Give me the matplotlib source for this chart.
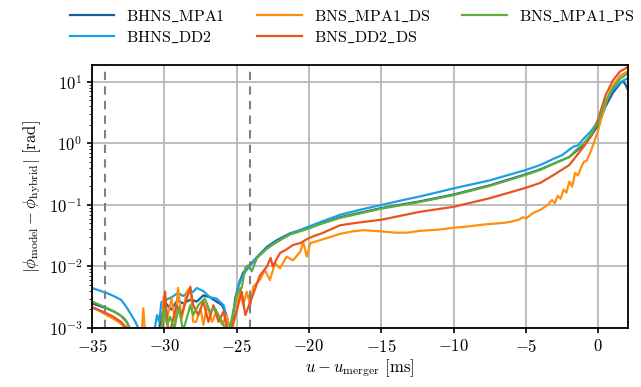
import matplotlib
matplotlib.use("Agg")
import matplotlib.pyplot as plt
import numpy as np

plt.rcParams["font.family"] = "serif"
plt.rcParams["font.serif"] = ["cmr10"]
plt.rcParams["mathtext.fontset"] = "cm"
plt.rcParams["axes.formatter.use_mathtext"] = True

# time [ms] and log10 phase difference for each run
t_bhns_mpa1 = [-35.0, -34.5, -34.0, -33.5, -33.0, -32.6, -32.3, -32.0, -30.5, -30.2, -29.9, -29.5, -29.1,
               -28.7, -28.2, -27.75, -27.3, -26.85, -26.4, -26.0, -25.7, -25.4, -25.1, -24.8, -24.55,
               -24.1, -23.6, -22.9, -22.2, -21.3, -20.1, -19.2, -17.85, -15.0, -12.3, -10.0, -7.5, -5.0,
               -4.0, -3.0, -2.0, -1.5, -1.0, -0.5, 0.0, 0.5, 1.0, 1.5, 1.7, 1.9, 2.1]
v_bhns_mpa1 = [-2.6, -2.64, -2.68, -2.73, -2.8, -2.9, -3.05, -3.2, -3.2, -2.8, -2.6, -2.7, -2.55,
               -2.6, -2.54, -2.57, -2.47, -2.5, -2.57, -2.63, -2.8, -3.1, -2.52, -2.25, -2.1,
               -1.98, -1.85, -1.68, -1.57, -1.46, -1.38, -1.3, -1.2, -1.05, -0.94, -0.83, -0.68, -0.5,
               -0.42, -0.32, -0.22, -0.12, -0.02, 0.12, 0.3, 0.6, 0.82, 0.97, 1.02, 0.95, 0.85]

t_bhns_dd2 = [-35.0, -34.5, -34.0, -33.5, -33.0, -32.7, -32.3, -32.0, -31.7, -31.2, -30.8, -30.5, -30.35,
              -30.2, -29.95, -29.5, -29.05, -28.7, -28.4, -28.0, -27.75, -27.3, -26.85, -26.4, -25.9,
              -25.6, -25.4, -25.25, -24.9, -24.55, -24.2, -23.6, -22.9, -22.2, -21.3, -20.0, -19.0,
              -17.85, -16.5, -15.0, -13.5, -12.3, -10.0, -7.5, -5.0, -4.0, -3.0, -2.5, -2.0, -1.7,
              -1.4, -1.0, -0.5, 0.0, 0.5, 1.0, 1.5, 2.1]
v_bhns_dd2 = [-2.35, -2.39, -2.43, -2.48, -2.54, -2.63, -2.78, -2.9, -3.05, -3.2, -3.2, -2.79, -2.9,
              -2.58, -2.55, -2.5, -2.43, -2.48, -2.43, -2.41, -2.35, -2.4, -2.5, -2.52, -2.63,
              -2.9, -3.1, -2.8, -2.33, -2.14, -2.02, -1.86, -1.7, -1.59, -1.47, -1.35, -1.26,
              -1.16, -1.08, -1.0, -0.92, -0.86, -0.73, -0.6, -0.43, -0.35, -0.24, -0.19, -0.1, -0.05,
              -0.03, 0.08, 0.2, 0.36, 0.66, 0.87, 0.99, 1.07]

t_bns_mpa1_ds = [-35.0, -34.5, -34.0, -33.5, -33.0, -32.6, -32.3, -31.6, -31.45, -31.3, -30.2, -30.05,
                 -29.85, -29.5, -29.25, -29.05, -28.8, -28.45, -28.2, -28.0, -27.8, -27.5, -27.3, -27.05,
                 -26.7, -26.4, -26.0, -25.7, -25.4, -25.0, -24.75, -24.55, -24.3, -24.05, -23.85, -23.4,
                 -23.05, -22.7, -22.35, -22.0, -21.55, -21.1, -20.6, -20.4, -20.15, -19.9, -19.2, -18.5,
                 -17.85, -17.0, -16.2, -15.0, -14.0, -13.2, -12.3, -11.0, -10.0, -9.0, -8.0, -7.5, -6.5,
                 -6.0, -5.5, -5.2, -5.0, -4.5, -4.0, -3.5, -3.2, -3.0, -2.8, -2.6, -2.4, -2.2, -2.0,
                 -1.8, -1.6, -1.4, -1.2, -1.0, -0.8, -0.5, -0.2, 0.0, 0.3, 0.6, 1.0, 1.5, 2.1]
v_bns_mpa1_ds = [-2.67, -2.72, -2.79, -2.85, -2.93, -3.05, -3.2, -3.2, -2.68, -3.2, -3.15, -2.49,
                 -2.9, -2.52, -2.9, -2.35, -2.85, -2.41, -2.35, -2.9, -2.9, -2.68, -2.95, -2.63,
                 -2.9, -2.73, -2.95, -2.79, -3.15, -2.68, -2.35, -2.63, -2.41, -2.63, -2.33, -2.22,
                 -2.06, -2.22, -1.95, -2.03, -1.84, -1.9, -1.76, -1.6, -1.84, -1.62, -1.57, -1.52,
                 -1.47, -1.43, -1.41, -1.43, -1.45, -1.45, -1.42, -1.4, -1.37, -1.35, -1.32, -1.31, -1.29,
                 -1.27, -1.24, -1.2, -1.22, -1.13, -1.08, -1.0, -0.92, -0.97, -0.85, -0.9, -0.75, -0.8, -0.62,
                 -0.7, -0.48, -0.52, -0.4, -0.3, -0.28, -0.12, 0.08, 0.22, 0.48, 0.72, 0.93, 1.1, 1.18]

t_bns_dd2_ds = [-35.0, -34.5, -34.0, -33.5, -33.0, -32.6, -32.3, -31.0, -30.5, -30.15, -29.95, -29.7,
                -29.15, -28.8, -28.2, -28.0, -27.65, -27.3, -26.95, -26.6, -26.25, -25.9, -25.55, -25.0,
                -24.65, -24.4, -24.05, -23.7, -23.4, -22.9, -22.65, -22.5, -22.0, -21.6, -21.1, -20.6,
                -20.1, -19.6, -19.1, -17.85, -16.7, -15.0, -12.3, -10.0, -7.5, -5.0, -4.0, -3.0, -2.0,
                -1.5, -1.0, -0.5, 0.0, 0.5, 1.0, 1.5, 2.1]
v_bns_dd2_ds = [-2.66, -2.71, -2.76, -2.82, -2.9, -3.0, -3.2, -3.2, -3.1, -3.2, -2.41, -3.15,
                -2.63, -2.79, -2.33, -2.63, -2.79, -2.57, -2.9, -2.63, -2.9, -2.73, -3.15, -2.73,
                -2.41, -2.79, -2.57, -2.35, -2.15, -2.0, -1.86, -2.0, -1.78, -1.73, -1.65, -1.62,
                -1.55, -1.5, -1.46, -1.33, -1.29, -1.24, -1.11, -1.03, -0.89, -0.72, -0.64, -0.5, -0.35,
                -0.2, -0.05, 0.12, 0.4, 0.78, 1.02, 1.17, 1.25]

t_bns_mpa1_ps = [-35.0, -34.5, -34.0, -33.5, -33.0, -32.7, -32.4, -32.1, -31.0, -30.6, -30.3, -30.0,
                 -29.8, -29.6, -29.3, -29.0, -28.7, -28.2, -28.0, -27.65, -27.2, -26.85, -26.5, -26.15,
                 -25.9, -25.6, -25.0, -24.65, -24.4, -24.2, -23.95, -23.6, -22.9, -22.2, -21.3, -20.1,
                 -19.2, -17.85, -15.0, -12.3, -10.0, -7.5, -5.0, -4.0, -3.0, -2.0, -1.5, -1.0, -0.5,
                 0.0, 0.5, 1.0, 1.5, 2.1]
v_bns_mpa1_ps = [-2.57, -2.62, -2.67, -2.73, -2.8, -2.86, -3.0, -3.2, -3.2, -3.1, -3.2, -2.68,
                 -2.95, -2.82, -3.0, -2.66, -3.05, -2.63, -2.79, -2.63, -2.52, -2.73, -2.68, -2.84,
                 -2.95, -3.15, -2.46, -2.35, -2.02, -1.98, -2.08, -1.86, -1.71, -1.6, -1.48, -1.39,
                 -1.31, -1.21, -1.06, -0.95, -0.84, -0.69, -0.51, -0.43, -0.32, -0.22, -0.1, 0.0, 0.15,
                 0.35, 0.68, 0.9, 1.05, 1.15]

runs = [
    ("BHNS_MPA1", t_bhns_mpa1, v_bhns_mpa1, "#1b5c9e"),
    ("BHNS_DD2", t_bhns_dd2, v_bhns_dd2, "#1ba1e0"),
    ("BNS_MPA1_DS", t_bns_mpa1_ds, v_bns_mpa1_ds, "#ff8f0f"),
    ("BNS_DD2_DS", t_bns_dd2_ds, v_bns_dd2_ds, "#e9531f"),
    ("BNS_MPA1_PS", t_bns_mpa1_ps, v_bns_mpa1_ps, "#5fae3c"),
]
dashed_times = [-34.1, -24.07]


def tex_label(name):
    # cmr10 has no underscore glyph, so go through mathtext
    return r"$\mathrm{" + name.replace("_", r"\_") + "}$"


fig = plt.figure(figsize=(6.41, 3.87), dpi=100)
ax = fig.add_axes([0.1435, 0.1525, 0.8365, 0.68])
for label, t, v, color in runs:
    ax.semilogy(t, 10.0 ** np.asarray(v), color=color, lw=1.6, label=tex_label(label))
for tx in dashed_times:
    ax.axvline(tx, color="#808080", ls=(0, (4, 3)), lw=1.5)

ax.set_xlim(-35, 2.07)
ax.set_ylim(1e-3, 19)
ax.set_xticks([-35, -30, -25, -20, -15, -10, -5, 0])
ax.grid(True, which="major", color="#b8b8b8", lw=1.3)
ax.tick_params(labelsize=12, width=1.2)
for s in ax.spines.values():
    s.set_linewidth(1.3)
ax.set_xlabel(r"$u - u_{\rm merger}$ [ms]", fontsize=12, labelpad=2)
ax.set_ylabel(r"$|\phi_{\rm model} - \phi_{\rm hybrid}|$ [rad]", fontsize=12)

fig.legend(loc="upper center", bbox_to_anchor=(0.549, 1.015), ncol=3, frameon=False,
           fontsize=11.5, handlelength=2.8, handletextpad=0.75, columnspacing=2.0, labelspacing=0.35)
fig.savefig("out.png", dpi=100)
